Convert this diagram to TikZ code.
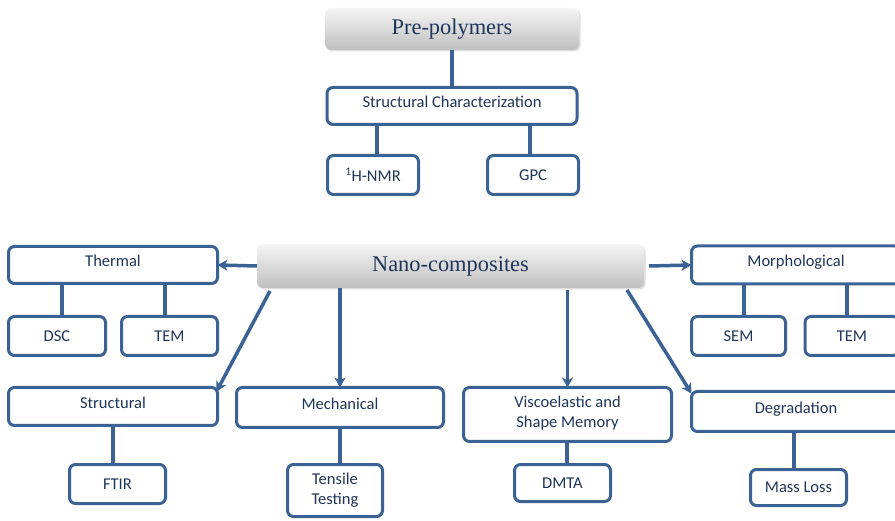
\documentclass[tikz,border=0pt]{standalone}
\usepackage{fontspec}
\setmainfont{Liberation Serif}
\newfontfamily\labelfont{Carlito}
\usetikzlibrary{arrows.meta,shadows}
\definecolor{boxblue}{HTML}{3A6294}
\definecolor{inkblue}{HTML}{1F3559}
\tikzset{
  box/.style={draw=boxblue, line width=3pt, rounded corners=6pt, fill=white,
    inner sep=0pt, outer sep=0pt, align=center, text=inkblue,
    font=\labelfont\fontsize{16.5}{20}\selectfont},
  catbox/.style={box, text height=12pt, text depth=8pt},
  headbox/.style={rounded corners=6pt, top color=gray!8, bottom color=gray!50,
    inner sep=0pt, outer sep=0pt, text=inkblue,
    font=\fontsize{22.4}{26}\selectfont,
    drop shadow={shadow xshift=1.5pt, shadow yshift=-1.5pt, opacity=0.25, fill=gray}},
  link/.style={draw=boxblue, line width=3.5pt},
  arrowlink/.style={link, -{Stealth[length=10pt,width=11pt,inset=3pt]}},
}
\begin{document}
\begin{tikzpicture}[x=1pt,y=-1pt]
\useasboundingbox (0,0) rectangle (895,521);
\clip (0,0) rectangle (895,521);
\fill[white] (0,0) rectangle (895,521);

% upper tree
\node[headbox, minimum width=254pt, minimum height=42pt] (pre) at (452,29) {Pre-polymers};
\node[catbox, minimum width=250pt, minimum height=37pt] (sc) at (452,106) {Structural Characterization};
\node[box, minimum width=91pt, minimum height=39pt] (nmr) at (373,175) {\textsuperscript{1}H-NMR};
\node[box, minimum width=91pt, minimum height=39pt] (gpc) at (533,175) {GPC};

\draw[link] (pre.south) -- (sc.north);
\draw[link] ([xshift=4pt]nmr.north) -- ([xshift=4pt]nmr.north |- sc.south);
\draw[link] ([xshift=-3pt]gpc.north) -- ([xshift=-3pt]gpc.north |- sc.south);

% lower tree
\node[headbox, minimum width=387pt, minimum height=44pt] (nano) at (450.5,266) {Nano-composites};

\node[catbox, minimum width=209pt, minimum height=37pt] (thermal) at (113,265) {Thermal};
\node[box, minimum width=97pt, minimum height=39pt] (dsc) at (57,336) {DSC};
\node[box, minimum width=96pt, minimum height=39pt] (temA) at (169.5,336) {TEM};

\node[catbox, minimum width=209pt, minimum height=38pt] (morph) at (796,265) {Morphological};
\node[box, minimum width=94pt, minimum height=39pt] (sem) at (738.5,336) {SEM};
\node[box, minimum width=94pt, minimum height=39pt] (temB) at (852,336) {TEM};

\node[catbox, minimum width=209pt, minimum height=38pt] (struct) at (113,406.5) {Structural};
\node[box, minimum width=96pt, minimum height=39pt] (ftir) at (117.5,484) {FTIR};

\node[catbox, minimum width=207pt, minimum height=40pt] (mech) at (340,407.5) {Mechanical};
\node[box, minimum width=95pt, minimum height=52pt] (tens) at (335,490.5) {Tensile\\Testing};

\node[box, minimum width=208pt, minimum height=54pt] (visco) at (567.5,414.5) {Viscoelastic and\\Shape Memory\rule[-6pt]{0pt}{0pt}};
\node[box, minimum width=96pt, minimum height=37pt] (dmta) at (562.5,483) {DMTA};

\node[catbox, minimum width=209pt, minimum height=40pt] (degr) at (796,411.5) {Degradation};
\node[box, minimum width=96pt, minimum height=36pt] (mass) at (798.5,487.5) {Mass Loss};

% arrows out of the central node
\draw[arrowlink] (nano.west) -- (thermal.east);
\draw[arrowlink] ([xshift=5pt]nano.east) -- (morph.west);
\draw[arrowlink] ([xshift=13pt,yshift=-3pt]nano.south west) -- ([xshift=-1pt,yshift=-4pt]struct.north east);
\draw[arrowlink] (mech.north |- nano.south) -- (mech.north);
\draw[arrowlink] ([yshift=-2pt]visco.north |- nano.south) -- (visco.north);
\draw[arrowlink] ([xshift=-17pt,yshift=-2pt]nano.south east) -- ([yshift=-2pt]degr.north west);

% plain branches
\draw[link] ([xshift=5pt]dsc.north) -- ([xshift=5pt]dsc.north |- thermal.south);
\draw[link] ([xshift=-4.5pt]temA.north) -- ([xshift=-4.5pt]temA.north |- thermal.south);
\draw[link] ([xshift=5.5pt]sem.north) -- ([xshift=5.5pt]sem.north |- morph.south);
\draw[link] ([xshift=-5pt]temB.north) -- ([xshift=-5pt]temB.north |- morph.south);
\draw[link] ([xshift=-4.5pt]ftir.north) -- ([xshift=-4.5pt]ftir.north |- struct.south);
\draw[link] ([xshift=5pt]tens.north) -- ([xshift=5pt]tens.north |- mech.south);
\draw[link] ([xshift=4.5pt]dmta.north) -- ([xshift=4.5pt]dmta.north |- visco.south);
\draw[link] ([xshift=-4.5pt]mass.north) -- ([xshift=-4.5pt]mass.north |- degr.south);
\end{tikzpicture}
\end{document}
